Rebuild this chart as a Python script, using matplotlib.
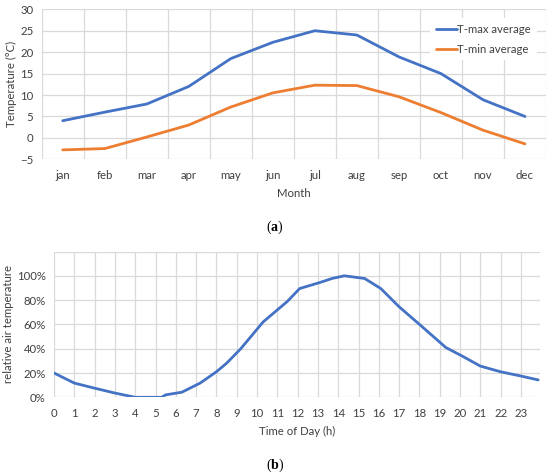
import matplotlib
matplotlib.use("Agg")
import matplotlib.pyplot as plt
from matplotlib.ticker import FuncFormatter

plt.rcParams['font.family'] = ['Lato', 'DejaVu Sans']
plt.rcParams['mathtext.fontset'] = 'custom'
plt.rcParams['mathtext.rm'] = 'Liberation Serif'
plt.rcParams['mathtext.bf'] = 'Liberation Serif:bold'

months = ["jan", "feb", "mar", "apr", "may", "jun", "jul", "aug", "sep", "oct", "nov", "dec"]
tmax_avg = [4.0, 6.0, 7.9, 12.0, 18.5, 22.3, 25.0, 24.0, 18.9, 15.0, 8.9, 5.0]
tmin_avg = [-2.8, -2.5, 0.2, 3.0, 7.2, 10.5, 12.3, 12.2, 9.6, 5.9, 1.8, -1.4]

hours = [0, 1, 2, 3, 4, 5.3, 5.5, 6.3, 7.2, 8.0, 8.5, 9.2, 10.3, 11.5, 12.1, 13.1,
         13.7, 14.3, 15.3, 16.1, 17.0, 18.1, 19.3, 20.1, 21.0, 22.0, 23.0, 23.85]
rel_temp = [0.20, 0.117, 0.075, 0.035, 0.0, 0.0, 0.02, 0.042, 0.117, 0.21, 0.28, 0.40,
            0.62, 0.79, 0.895, 0.945, 0.978, 1.0, 0.978, 0.895, 0.745, 0.586, 0.41,
            0.34, 0.257, 0.21, 0.175, 0.143]
hour_ticks = list(range(24))

BLUE = "#4472C4"
ORANGE = "#ED7D31"
GRID = "#d9d9d9"
TXT = "#404040"
FS = 8.2

W, H = 550, 474
fig = plt.figure(figsize=(W / 100, H / 100), dpi=100)

def style(ax):
    for s in ax.spines.values():
        s.set_visible(False)
    ax.grid(True, color=GRID, linewidth=0.9)
    ax.set_axisbelow(True)
    ax.tick_params(length=0, labelsize=FS, colors=TXT)

# (a)
ax1 = fig.add_axes([41.7 / W, 1 - 159.3 / H, 504.3 / W, 150 / H])
style(ax1)
x = list(range(len(months)))
ax1.plot(x, tmax_avg, color=BLUE, lw=2.0, label="T-max average", solid_capstyle='round')
ax1.plot(x, tmin_avg, color=ORANGE, lw=2.0, label="T-min average", solid_capstyle='round')
ax1.set_xlim(-0.5, 11.5)
ax1.set_ylim(-5, 30)
ax1.set_yticks(range(-5, 31, 5))
ax1.set_xticks([i + 0.5 for i in range(-1, 12)], minor=False)
ax1.set_xticklabels([])
ax1.set_xticks(x, minor=True)
ax1.set_xticklabels(months, minor=True)
ax1.tick_params(axis='x', which='minor', length=0, pad=7.5, labelsize=FS, colors=TXT)
ax1.grid(True, which='major', color=GRID, linewidth=0.9)
ax1.tick_params(axis='y', pad=6)
ax1.set_ylabel("Temperature (°C)", fontsize=FS, color=TXT, labelpad=2)
ax1.set_xlabel("Month", fontsize=FS, color=TXT, labelpad=5.5)
leg = ax1.legend(loc='upper right', frameon=True, fontsize=FS, handlelength=1.85,
                 handletextpad=0.05, labelspacing=0.75, borderpad=0.5,
                 borderaxespad=0.8, bbox_to_anchor=(1.0, 1.0))
leg.get_frame().set_edgecolor('none')
leg.get_frame().set_facecolor('white')
leg.get_frame().set_alpha(1)
for t in leg.get_texts():
    t.set_color(TXT)

fig.text(0.5, 1 - 227 / H, r"($\mathbf{a}$)", ha='center', va='center', fontsize=10,
         family='Liberation Serif', color='black')

# (b)
ax2 = fig.add_axes([54 / W, 1 - 397.3 / H, 486.4 / W, 145.8 / H])
style(ax2)
ax2.plot(hours, rel_temp, color=BLUE, lw=2.0, solid_capstyle='round')
ax2.set_xlim(0, 23.96)
ax2.set_ylim(0, 1.2)
ax2.set_yticks([0, 0.2, 0.4, 0.6, 0.8, 1.0, 1.2])
ax2.yaxis.set_major_formatter(FuncFormatter(lambda v, p: "" if v > 1.01 else f"{v * 100:.0f}%"))
ax2.set_xticks(hour_ticks)
ax2.set_xticklabels([str(h) for h in hour_ticks])
ax2.tick_params(axis='x', pad=7.5)
ax2.tick_params(axis='y', pad=6)
ax2.set_ylabel("relative air temperature", fontsize=FS, color=TXT, labelpad=2)
ax2.set_xlabel("Time of Day (h)", fontsize=FS, color=TXT, labelpad=5)

fig.text(0.5, 1 - 465 / H, r"($\mathbf{b}$)", ha='center', va='center', fontsize=10,
         family='Liberation Serif', color='black')

fig.savefig("out.png", dpi=100)
